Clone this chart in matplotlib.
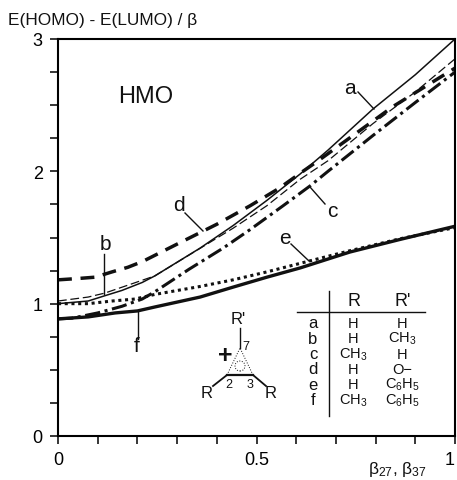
import matplotlib
matplotlib.use("Agg")
import matplotlib.pyplot as plt
import numpy as np

plt.rcParams['font.family'] = ['Liberation Sans', 'DejaVu Sans']
plt.rcParams['mathtext.fontset'] = 'custom'
plt.rcParams['mathtext.rm'] = 'Liberation Sans'
plt.rcParams['mathtext.default'] = 'rm'
W, H = 457, 481
L, R, T, B = 58, 455, 40, 437

xa = [0, .076, .118, .161, .212, .244, .358, .441, .526, .61, .68, .793, .9, 1]
ya = [1.0, 1.02, 1.06, 1.10, 1.16, 1.21, 1.42, 1.59, 1.78, 1.98, 2.16, 2.47, 2.73, 3.0]
xb = [0, .076, .118, .186, .244, .441, .526, .61, .68, .793, .9, 1]
yb = [1.02, 1.05, 1.08, 1.15, 1.21, 1.57, 1.74, 1.94, 2.08, 2.36, 2.6, 2.85]
xc = [0, .035, .1, .161, .212, .244, .33, .416, .484, .567, .635, .68, .793, .9, 1]
yc = [.885, .89, .93, .98, 1.035, 1.09, 1.26, 1.42, 1.56, 1.74, 1.89, 2.0, 2.27, 2.52, 2.75]
xd = [0, .05, .093, .136, .176, .214, .30, .40, .484, .556, .617, .66, .844, .93, 1]
yd = [1.18, 1.19, 1.2, 1.24, 1.275, 1.32, 1.45, 1.60, 1.74, 1.87, 2.0, 2.09, 2.49, 2.65, 2.78]
xe = [0, .076, .136, .194, .244, .358, .441, .526, .63, .735, .861, 1]
ye = [1.0, 1.0, 1.02, 1.035, 1.07, 1.13, 1.18, 1.24, 1.32, 1.40, 1.49, 1.575]
xf = [0, .076, .144, .2, .244, .358, .441, .526, .61, .735, .861, 1]
yf = [.885, .90, .93, .945, .975, 1.05, 1.125, 1.20, 1.27, 1.39, 1.485, 1.585]

table_rows = ['a', 'b', 'c', 'd', 'e', 'f']
table_R = ['H', 'H', 'CH$_3$', 'H', 'H', 'CH$_3$']
table_Rp = ['H', 'CH$_3$', 'H', 'O\u2212', 'C$_6$H$_5$', 'C$_6$H$_5$']

fig = plt.figure(figsize=(W/100, H/100), dpi=100)
ax = fig.add_axes([L/W, 1-B/H, (R-L)/W, (B-T)/H])
ax.set_xlim(0, 1); ax.set_ylim(0, 3)
ax.set_xticks([0, .5, 1]); ax.set_xticklabels(['0', '0.5', '1'])
ax.set_xticks(np.arange(0, 1.01, .1), minor=True)
ax.set_yticks([0, 1, 2, 3])
ax.set_yticks(np.arange(0, 3.01, .25), minor=True)
ax.tick_params(which='both', direction='out', length=6, width=1.1, labelsize=13, pad=5)
ax.get_xticklabels()[-1].set_ha('right')
for s in ax.spines.values():
    s.set_linewidth(1.5)

k = '#111111'
ax.plot(xa, ya, color=k, lw=1.1)
ax.plot(xb, yb, color=k, lw=.9, dashes=(7, 3))
ax.plot(xc, yc, color=k, lw=2.2, dashes=(5, 1.5, 1, 1.5))
ax.plot(xd, yd, color=k, lw=2.5, dashes=(4, 2.5))
ax.plot(xe, ye, color=k, lw=2.2, dashes=(1, 1.2))
ax.plot(xf, yf, color=k, lw=2.4)

def px(x, y):
    return (x-L)/(R-L), (B-y)/(B-T)

def T_(x, y, s, size=13, **kw):
    ax.text(*px(x, y), s, transform=ax.transAxes, fontsize=size, color=k,
            ha=kw.pop('ha', 'center'), va=kw.pop('va', 'center'), clip_on=False, **kw)

def Ln(x0, y0, x1, y1, lw=1.0, **kw):
    a, b = px(x0, y0), px(x1, y1)
    ax.plot([a[0], b[0]], [a[1], b[1]], transform=ax.transAxes, color=k, lw=lw, clip_on=False, **kw)

fig.text(8/W, 1-21/H, 'E(HOMO) - E(LUMO) / β', fontsize=12.4, color=k, va='center')
T_(146, 97, 'HMO', 17)
T_(397, 470, 'β$_{27}$, β$_{37}$', 12.5)

for lab, x, y, (x0, y0, x1, y1) in [
    ('a', 350, 88, (358, 93, 374, 110)),
    ('b', 105, 245, (104, 255, 104, 295)),
    ('c', 332, 212, (310, 188, 325, 205)),
    ('d', 179, 206, (185, 214, 203, 232)),
    ('e', 285, 239, (291, 245, 309, 262)),
    ('f', 137, 347, (138, 313, 138, 340))]:
    T_(x, y, lab, 15)
    Ln(x0, y0, x1, y1)

# table
for i, (a, b, c) in enumerate(zip(table_rows, table_R, table_Rp)):
    y = 324 + i*15.3
    T_(313, y, a, 12)
    T_(353, y, b, 10.5)
    T_(402, y, c, 10.5)
T_(354, 302, 'R', 13)
T_(403, 301, "R'", 13)
Ln(297, 313, 425, 313)
Ln(329, 292, 329, 417)

# structure
T_(238, 319, "R'", 12)
T_(271, 394, 'R', 12)
T_(207, 394, 'R', 12)
T_(225, 356, '+', 18, fontweight='bold')
T_(246, 347, '7', 9)
T_(229, 385, '2', 9)
T_(250, 385, '3', 9)
Ln(240, 329, 240, 349)
Ln(227, 376, 253, 376, 1.6)
Ln(253, 376, 266, 387, 1.3)
Ln(227, 376, 213, 387, 1.3)
Ln(227, 376, 240, 349, .7, ls=':')
Ln(253, 376, 240, 349, .7, ls=':')
ax.add_patch(plt.Circle(px(240, 367), 5/(R-L), transform=ax.transAxes, fill=False, lw=.7, ls=':', color=k))

fig.savefig('out.png', dpi=100)
